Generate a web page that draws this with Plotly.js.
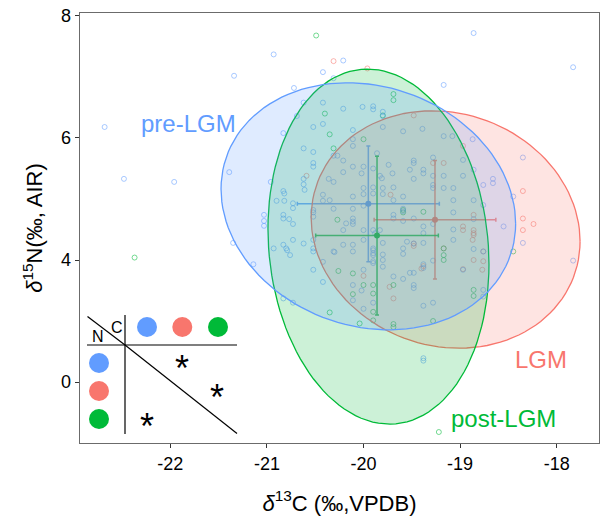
<!DOCTYPE html>
<html>
<head>
<meta charset="utf-8">
<script src="https://cdn.plot.ly/plotly-3.0.1.min.js"></script>
<style>html,body{margin:0;padding:0;background:#fff}#chart{width:600px;height:518px}</style>
</head>
<body>
<div id="chart"></div>
<script>
// ---------- data ----------
const groups = ['pre-LGM', 'LGM', 'post-LGM'];
const groupColors = ['#619CFF', '#F8766D', '#00BA38'];

const preLGM_d13C = [-22.68,-22.48,-21.96,-21.34,-20.93,-20.42,-20.72,-21.39,-20.83,-20.96,
-20.52,-20.42,-20.62,-20.52,-20.52,-20.52,-20.62,-20.83,-20.82,-20.90,
-20.82,-20.36,-20.31,-20.62,-20.61,-20.42,-20.42,-20.35,-20.73,-20.73,
-20.21,-20.31,-20.62,-20.42,-20.01,-19.90,-19.90,-20.21,-19.80,-19.80,
-20.69,-19.80,-20.11,-20.11,-20.11,-20.31,-20.27,-19.86,-20.21,-19.90,
-20.00,-19.74,-20.21,-20.02,-19.83,-19.81,-19.90,-19.69,-20.11,-20.00,
-19.80,-19.69,-20.31,-20.11,-20.52,-20.52,-21.03,-21.03,-21.03,-20.83,
-20.83,-20.77,-20.73,-20.18,-20.11,-20.11,-20.11,-19.69,-19.69,-20.00,
-20.21,-19.90,-19.88,-19.83,-19.70,-19.59,-19.17,-19.08,-18.87,-20.11,
-19.48,-19.48,-19.28,-18.97,-19.52,-19.38,-19.38,-18.97,-18.66,-18.66,
-20.00,-19.80,-19.48,-19.28,-19.17,-19.07,-19.90,-19.07,-18.86,-20.00,
-20.52,-19.59,-19.59,-19.59,-19.48,-19.38,-19.38,-19.07,-18.86,-20.83,
-20.73,-20.52,-20.52,-20.31,-20.21,-20.11,-20.00,-19.90,-19.90,-19.80,
-19.59,-19.59,-19.48,-19.38,-19.07,-20.62,-20.80,-19.90,-19.90,-19.80,
-19.80,-20.52,-20.42,-20.00,-19.69,-19.52,-19.48,-20.11,-19.48,-19.48,
-20.02,-18.97,-20.83,-18.86,-17.83,-19.17,-19.39,-18.35,-19.28,-19.17,
-18.86,-18.76,-19.28,-19.59,-18.45,-18.76,-19.07,-19.28,-18.55,-21.35,
-21.14,-20.93,-20.79,-20.76,-20.52,-20.42,-20.30,-20.11,-19.90,-19.90,
-19.80,-20.11,-20.73,-20.00,-19.90,-19.55,-19.28,-18.86,-18.76,-18.35,
-17.83,-19.38,-19.38,-19.59,-19.28,-19.38,-18.76,-18.76,-19.38,-19.38];
const preLGM_d15N = [6.18,5.33,5.28,7.02,7.37,7.08,6.82,5.44,6.08,5.28,
6.18,6.23,5.83,5.77,5.59,5.53,5.33,5.13,5.09,4.97,
4.97,5.33,5.28,5.24,5.15,5.07,4.97,4.98,4.93,4.85,
7.27,6.98,6.58,6.58,6.51,6.52,6.47,6.48,6.43,6.36,
6.36,6.18,6.13,5.98,5.87,5.71,5.71,5.75,5.63,5.50,
5.53,5.56,5.44,5.42,5.38,5.34,5.19,5.19,5.04,5.08,
5.08,4.98,4.84,4.84,4.78,4.71,4.74,4.64,4.56,4.74,
4.68,4.67,4.59,4.60,4.68,4.63,4.59,4.74,4.68,4.49,
4.49,4.49,4.44,4.49,5.42,6.11,6.03,6.03,5.98,5.53,
5.63,5.59,5.68,5.64,5.48,5.48,5.42,5.38,5.33,5.26,
5.18,5.18,5.33,5.18,5.18,5.18,5.09,4.98,4.98,4.89,
4.82,4.84,4.80,4.64,4.68,4.55,4.44,4.50,4.67,4.25,
4.33,4.33,4.14,4.14,4.25,4.25,4.33,4.16,4.11,4.28,
4.19,4.10,4.27,4.28,4.33,4.27,4.19,3.98,3.95,4.00,
3.89,3.84,3.64,3.84,3.73,3.79,3.79,3.59,3.59,3.54,
3.50,3.84,3.37,7.72,7.16,6.87,6.15,5.68,5.38,5.38,
5.48,5.23,5.23,5.04,5.04,4.90,4.78,4.59,4.55,4.28,
3.93,4.19,4.16,4.08,4.19,3.97,4.13,4.14,4.19,4.08,
4.09,3.34,3.30,3.20,3.30,4.30,3.99,4.18,4.14,4.28,
3.99,3.93,3.87,3.69,3.30,3.25,3.51,3.40,2.39,2.35];

const LGM_d13C = [-20.31,-19.96,-20.59,-19.72,-19.17,-18.97,-18.97,-18.86,-19.48,-19.48,
-19.17,-18.87,-18.76,-18.86,-20.00,-19.38,-19.73,-19.69,-18.76,-18.77,
-19.48,-18.97,-19.28,-18.35,-18.86,-18.86,-18.86,-18.35,-18.35,-18.24,
-19.40,-18.97];
const LGM_d15N = [7.26,7.14,5.38,5.07,5.59,4.55,4.49,4.44,4.27,4.23,
4.19,4.33,4.14,4.00,3.74,3.90,3.56,3.37,3.98,3.84,
6.37,5.87,5.59,5.13,4.74,4.49,4.41,4.68,4.49,4.59,
3.86,3.85];

const postLGM_d13C = [-20.49,-22.37,-20.40,-20.35,-20.31,-19.69,-19.69,-19.80,-20.00,-20.27,
-19.38,-19.17,-19.17,-20.26,-20.11,-20.00,-19.90,-19.90,-19.69,-20.11,
-18.86,-18.86,-19.59,-19.59,-20.35,-19.90,-20.04,-19.90,-19.69,-19.17,
-18.45,-19.69,-19.28,-19.22];
const postLGM_d15N = [7.68,4.04,6.40,6.06,5.83,6.72,6.62,6.37,5.98,4.66,
4.79,4.08,4.00,3.82,3.78,3.59,3.59,3.45,3.59,3.44,
3.51,3.41,4.82,4.78,3.14,3.15,2.96,3.01,2.95,4.19,
4.14,2.90,3.00,1.18];

// group means and standard deviations (pre-LGM, LGM, post-LGM)
const mean_d13C = [-19.95, -19.26, -19.86];
const mean_d15N = [4.92, 4.66, 4.40];
const sd_d13C   = [0.735, 0.63, 0.635];
const sd_d15N   = [0.95, 0.97, 1.30];

// confidence ellipses: centre, half-extent and correlation
const ell_cx  = [-19.95, -19.15, -19.845];
const ell_cy  = [4.88, 4.50, 4.22];
const ell_rx  = [1.525, 1.392, 1.144];
const ell_ry  = [2.025, 1.946, 2.91];
const ell_rho = [-0.14, -0.10, -0.10];

const xTickVals = [-22, -21, -20, -19, -18];
const xTickText = ['-22', '-21', '-20', '-19', '-18'];
const yTickVals = [2, 4, 6, 8];
const yTickText = ['0', '4', '6', '8'];

// ---------- helpers ----------
function rgba(hex, a) {
  const n = parseInt(hex.slice(1), 16);
  return `rgba(${(n>>16)&255},${(n>>8)&255},${n&255},${a})`;
}
const FONT = 'Liberation Sans, Arial, Helvetica, sans-serif';

const traces = [];
const pts = [[preLGM_d13C, preLGM_d15N], [LGM_d13C, LGM_d15N], [postLGM_d13C, postLGM_d15N]];
[1, 2, 0].forEach(g => {
  traces.push({
    type: 'scatter', mode: 'markers', x: pts[g][0], y: pts[g][1], name: groups[g],
    marker: {symbol: 'circle-open', size: 5, color: rgba(groupColors[g], 0.6), line: {width: 0.9}},
    hoverinfo: 'skip', showlegend: false
  });
});
[0, 1, 2].forEach(g => {
  traces.push({
    type: 'scatter', mode: 'markers', x: [mean_d13C[g]], y: [mean_d15N[g]],
    marker: {size: 6, color: groupColors[g]},
    error_x: {type: 'data', array: [sd_d13C[g]], color: rgba(groupColors[g], 0.85), thickness: 1.5, width: 2},
    error_y: {type: 'data', array: [sd_d15N[g]], color: rgba(groupColors[g], 0.85), thickness: 1.5, width: 2},
    hoverinfo: 'skip', showlegend: false
  });
});
[1, 2, 0].forEach(g => {
  const ex = [], ey = [];
  const phi = Math.acos(ell_rho[g]);
  for (let i = 0; i <= 120; i++) {
    const t = 2 * Math.PI * i / 120;
    ex.push(ell_cx[g] + ell_rx[g] * Math.cos(t));
    ey.push(ell_cy[g] + ell_ry[g] * Math.cos(t - phi));
  }
  traces.push({
    type: 'scatter', mode: 'lines', x: ex, y: ey, fill: 'toself',
    fillcolor: rgba(groupColors[g], 0.2), line: {color: groupColors[g], width: 1.3},
    hoverinfo: 'skip', showlegend: false
  });
});

// ---------- inset table (pixel positions -> paper) ----------
const PL = 80, PR = 599, PT = 13, PB = 443;
const px = v => (v - PL) / (PR - PL);
const py = v => (PB - v) / (PB - PT);
const shapes = [];
const line = (x0, y0, x1, y1) => shapes.push({type: 'line', xref: 'paper', yref: 'paper',
  x0: px(x0), y0: py(y0), x1: px(x1), y1: py(y1), line: {color: '#000', width: 1.2}});
line(87, 345, 237, 345);
line(125, 315, 125, 434);
line(87.5, 316.5, 125, 345);
line(125, 345, 237, 433.5);
const dot = (cx, cy, col) => shapes.push({type: 'circle', xref: 'paper', yref: 'paper',
  x0: px(cx - 10), x1: px(cx + 10), y0: py(cy + 10), y1: py(cy - 10),
  fillcolor: col, line: {width: 0}});
[147, 182.3, 218].forEach((x, i) => dot(x, 327, groupColors[i]));
[363, 391, 419].forEach((y, i) => dot(99, y, groupColors[i]));

const annotations = [];
const txt = (x, y, t, size, color) => annotations.push({xref: 'paper', yref: 'paper',
  x: px(x), y: py(y), text: t, showarrow: false, xanchor: 'center', yanchor: 'middle',
  font: {family: FONT, size: size, color: color}});
txt(98.3, 336, 'N', 16, '#000');
txt(116.5, 327.5, 'C', 16, '#000');
txt(182.3, 368, '*', 36, '#000');
txt(217.3, 397, '*', 36, '#000');
txt(147, 426, '*', 36, '#000');
txt(188, 124, 'pre-LGM', 24, groupColors[0]);
txt(540.5, 359, 'LGM', 24, groupColors[1]);
txt(503, 418, 'post-LGM', 24, groupColors[2]);

const layout = {
  width: 600, height: 518,
  margin: {l: PL, r: 600 - PR, t: PT, b: 518 - PB},
  paper_bgcolor: '#fff', plot_bgcolor: '#fff',
  showlegend: false,
  font: {family: FONT, color: '#000'},
  xaxis: {
    range: [-22.935, -17.562], tickvals: xTickVals, ticktext: xTickText, ticks: 'outside', ticklen: 4, tickcolor: '#333',
    showgrid: false, zeroline: false, showline: true, mirror: true, linecolor: '#6b6b6b', linewidth: 1.3,
    tickfont: {size: 18, family: FONT, color: '#000'},
    title: {text: '<i>δ</i><sup>13</sup>C (‰,VPDB)', font: {size: 22, family: FONT, color: '#000'}, standoff: 22}
  },
  yaxis: {
    range: [1.0, 8.049], tickvals: yTickVals, ticktext: yTickText, ticks: 'outside', ticklen: 4, tickcolor: '#333',
    showgrid: false, zeroline: false, showline: true, mirror: true, linecolor: '#6b6b6b', linewidth: 1.3,
    tickfont: {size: 18, family: FONT, color: '#000'},
    title: {text: '<i>δ</i><sup>15</sup>N(‰, AIR)', font: {size: 22, family: FONT, color: '#000'}, standoff: 12}
  },
  shapes: shapes,
  annotations: annotations
};

Plotly.newPlot('chart', traces, layout, {displayModeBar: false, staticPlot: true});
</script>
</body>
</html>
